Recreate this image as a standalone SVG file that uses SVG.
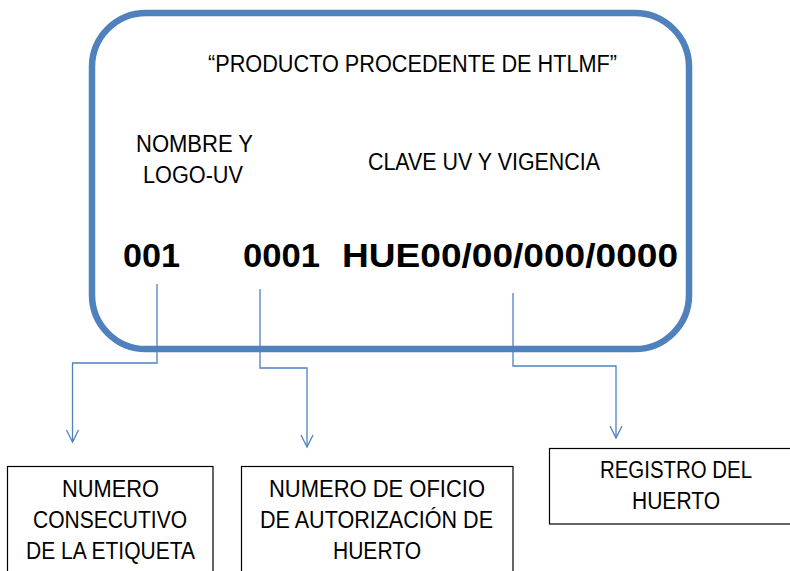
<svg xmlns="http://www.w3.org/2000/svg" width="790" height="571" viewBox="0 0 790 571">
<style>
text{font-family:"Liberation Sans",Arial,sans-serif;fill:#000;}
.t{font-size:23px;}
.b{font-size:33px;font-weight:bold;}
.conn{fill:none;stroke:#4F81BD;stroke-width:1.3;}
.box{fill:#fff;stroke:#000;stroke-width:1.2;}
</style>
<defs>
<marker id="arr" markerUnits="userSpaceOnUse" orient="auto" refX="0" refY="0" markerWidth="20" markerHeight="20" overflow="visible">
<path d="M-12,-6 L0,0 L-12,6" fill="none" stroke="#4F81BD" stroke-width="1.3"/>
</marker>
</defs>
<g id="label">
<rect x="92" y="13" width="597" height="336" rx="54" ry="54" fill="#fff" stroke="#4F81BD" stroke-width="6.5"/>
<text class="t" x="208" y="72" textLength="409" lengthAdjust="spacingAndGlyphs">“PRODUCTO PROCEDENTE DE HTLMF”</text>
<text class="t" x="136" y="152" textLength="117" lengthAdjust="spacingAndGlyphs">NOMBRE Y</text>
<text class="t" x="143" y="183" textLength="100" lengthAdjust="spacingAndGlyphs">LOGO-UV</text>
<text class="t" x="368" y="170" textLength="232" lengthAdjust="spacingAndGlyphs">CLAVE UV Y VIGENCIA</text>
<text class="b" x="123" y="267" textLength="57" lengthAdjust="spacingAndGlyphs">001</text>
<text class="b" x="243" y="267" textLength="77" lengthAdjust="spacingAndGlyphs">0001</text>
<text class="b" x="342" y="267" textLength="336" lengthAdjust="spacingAndGlyphs">HUE00/00/000/0000</text>
</g>
<g id="connectors">
<polyline class="conn" points="157,284 157,363 72.5,363 72.5,442" marker-end="url(#arr)"/>
<polyline class="conn" points="260,289 260,368 307,368 307,447" marker-end="url(#arr)"/>
<polyline class="conn" points="513,293 513,366 616,366 616,438" marker-end="url(#arr)"/>
</g>
<g id="box1">
<rect class="box" x="7.5" y="466.5" width="205.5" height="120"/>
<text class="t" x="62" y="497" textLength="97" lengthAdjust="spacingAndGlyphs">NUMERO</text>
<text class="t" x="33" y="528" textLength="154" lengthAdjust="spacingAndGlyphs">CONSECUTIVO</text>
<text class="t" x="26" y="559" textLength="169" lengthAdjust="spacingAndGlyphs">DE LA ETIQUETA</text>
</g>
<g id="box2">
<rect class="box" x="241.5" y="466.5" width="271.5" height="120"/>
<text class="t" x="269" y="497" textLength="216" lengthAdjust="spacingAndGlyphs">NUMERO DE OFICIO</text>
<text class="t" x="260" y="528" textLength="233" lengthAdjust="spacingAndGlyphs">DE AUTORIZACIÓN DE</text>
<text class="t" x="333" y="559" textLength="88" lengthAdjust="spacingAndGlyphs">HUERTO</text>
</g>
<g id="box3">
<rect class="box" x="549.5" y="448.5" width="260" height="75.5"/>
<text class="t" x="600" y="478" textLength="152" lengthAdjust="spacingAndGlyphs">REGISTRO DEL</text>
<text class="t" x="632" y="509" textLength="88" lengthAdjust="spacingAndGlyphs">HUERTO</text>
</g>
</svg>
